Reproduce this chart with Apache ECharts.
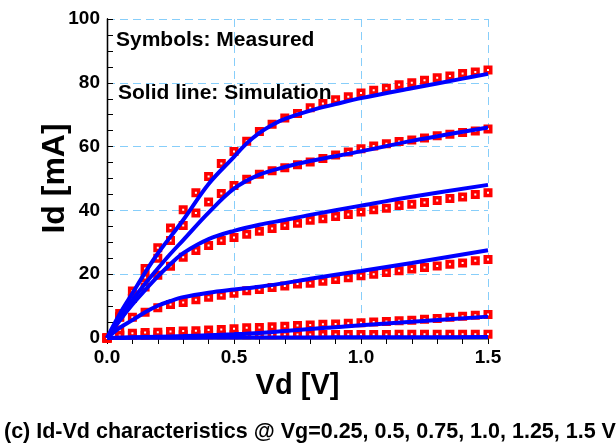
<!DOCTYPE html>
<html>
<head>
<meta charset="utf-8">
<script src="https://cdn.jsdelivr.net/npm/echarts@6/dist/echarts.min.js"></script>
<style>
  html, body { margin: 0; padding: 0; background: #fff; }
  #chart { width: 616px; height: 447px; }
</style>
</head>
<body>
<div id="chart"></div>
<script>
// Drain voltage sweep for the measured points (V)
const vdMeasured = [0, 0.05, 0.10, 0.15, 0.20, 0.25, 0.30, 0.35, 0.40, 0.45, 0.50,
  0.55, 0.60, 0.65, 0.70, 0.75, 0.80, 0.85, 0.90, 0.95, 1.00,
  1.05, 1.10, 1.15, 1.20, 1.25, 1.30, 1.35, 1.40, 1.45, 1.50];

// Measured drain current (mA), one array per gate voltage
const measVg150 = [0, 7.7, 14.7, 21.8, 28.3, 34.5, 40.2, 45.5, 50.6, 54.7, 58.5,
  61.7, 64.7, 67.0, 69.0, 70.4, 72.2, 73.5, 74.7, 75.6, 76.8,
  77.7, 78.3, 79.4, 80.0, 80.8, 81.6, 82.1, 82.9, 83.4, 84.0];
const measVg125 = [0, 6.5, 12.5, 19.0, 25.0, 30.6, 35.3, 39.2, 42.6, 45.3, 47.8,
  49.8, 51.3, 52.4, 53.4, 54.3, 55.2, 56.3, 57.4, 58.3, 59.3,
  60.2, 60.9, 61.6, 62.1, 62.7, 63.4, 63.9, 64.4, 64.9, 65.5];
const measVg100 = [0, 6.7, 12.4, 16.0, 19.7, 22.5, 25.3, 27.4, 29.0, 30.6, 31.5,
  32.5, 33.5, 34.3, 35.3, 36.0, 36.9, 37.4, 38.1, 38.7, 39.5,
  40.2, 40.7, 41.5, 41.9, 42.5, 43.1, 43.7, 44.2, 45.0, 45.5];
const measVg075 = [0, 2.5, 6.5, 8.1, 9.5, 10.5, 11.1, 12.0, 12.8, 13.4, 14.0,
  14.8, 15.2, 15.8, 16.3, 16.9, 17.2, 17.8, 18.3, 18.9, 19.5,
  20.0, 20.5, 21.1, 21.6, 22.1, 22.6, 23.1, 23.5, 24.2, 24.6];
const measVg050 = [0, 1.0, 1.5, 1.7, 1.8, 2.0, 2.2, 2.3, 2.5, 2.7, 2.9,
  3.2, 3.3, 3.5, 3.7, 3.9, 4.1, 4.3, 4.4, 4.6, 4.8,
  5.0, 5.2, 5.4, 5.6, 5.85, 6.15, 6.5, 6.8, 7.1, 7.4];
const measVg025 = [0, 0.8, 0.9, 0.9, 1.0, 1.0, 1.0, 1.0, 1.0, 1.0, 1.0,
  1.0, 1.0, 1.0, 1.1, 1.1, 1.1, 1.1, 1.1, 1.1, 1.1,
  1.1, 1.1, 1.2, 1.2, 1.2, 1.2, 1.2, 1.2, 1.2, 1.2];

// Simulated curves (Vd in V, Id in mA)
const vdSimFine = [0, 0.05, 0.10, 0.15, 0.20, 0.30, 0.40, 0.50, 0.55, 0.60, 0.65, 0.70, 0.80, 0.90, 1.00, 1.20, 1.40, 1.50];
const simVg150 = [0, 7.5, 14.0, 20.5, 26.5, 37.0, 48.3, 56.8, 61.0, 64.3, 66.8, 68.7, 71.3, 73.3, 75.2, 78.3, 81.3, 82.8];
const vdSim = [0, 0.05, 0.10, 0.15, 0.20, 0.25, 0.30, 0.40, 0.50, 0.60, 0.70, 0.80, 1.00, 1.20, 1.50];
const simVg125 = [0, 6.0, 11.9, 17.0, 21.8, 26.4, 30.7, 39.3, 46.8, 51.2, 53.6, 55.5, 58.5, 61.8, 66.0];
const simVg100 = [0, 5.5, 10.5, 15.0, 19.3, 23.2, 26.6, 31.0, 33.6, 35.5, 37.0, 38.6, 41.5, 44.3, 48.0];
const simVg075 = [0, 3.2, 5.6, 8.1, 10.1, 11.6, 12.8, 14.2, 15.2, 16.1, 17.2, 18.6, 21.0, 23.5, 27.5];
const vdSimLow = [0, 0.10, 0.20, 0.30, 0.40, 0.50, 0.60, 0.70, 0.80, 0.90, 1.00, 1.20, 1.50];
const simVg050 = [0, 0.2, 0.4, 0.6, 0.9, 1.2, 1.6, 2.2, 2.8, 3.4, 4.0, 5.1, 6.7];
const simVg025 = [0, 0.05, 0.08, 0.1, 0.12, 0.14, 0.15, 0.17, 0.18, 0.2, 0.22, 0.25, 0.3];

// Axis ticks and text
const xTickLabels = ['0.0', '0.5', '1.0', '1.5'];
const yTickLabels = ['0', '20', '40', '60', '80', '100'];
const xAxisName = 'Vd [V]';
const yAxisName = 'Id [mA]';
const noteMeasured = 'Symbols: Measured';
const noteSimulated = 'Solid line: Simulation';
const caption = '(c) Id-Vd characteristics @ Vg=0.25, 0.5, 0.75, 1.0, 1.25, 1.5 V';

const pairs = (xs, ys) => xs.map((x, i) => [x, ys[i]]);

const FONT = 'Liberation Sans, Arial, sans-serif';
const GRID = { left: 107, top: 19, width: 381, height: 319 };

const measuredSets = [measVg025, measVg050, measVg075, measVg100, measVg125, measVg150];
const simSets = [
  [vdSimLow, simVg025], [vdSimLow, simVg050], [vdSim, simVg075],
  [vdSim, simVg100], [vdSim, simVg125], [vdSimFine, simVg150]
];

const series = [];
measuredSets.forEach((ys) => {
  series.push({
    type: 'scatter',
    data: pairs(vdMeasured, ys),
    symbol: 'rect',
    symbolSize: 5.5,
    itemStyle: { color: '#ffffff', borderColor: '#ff0000', borderWidth: 3.5, opacity: 1 },
    z: 3,
    silent: true
  });
});
simSets.forEach(([xs, ys]) => {
  series.push({
    type: 'line',
    data: pairs(xs, ys),
    smooth: 0.35,
    showSymbol: false,
    lineStyle: { color: '#0000ff', width: 4 },
    z: 4,
    silent: true,
    animation: false
  });
});

const chart = echarts.init(document.getElementById('chart'), null, { renderer: 'canvas' });
chart.setOption({
  animation: false,
  backgroundColor: '#ffffff',
  grid: GRID,
  xAxis: [
    {
      type: 'value', position: 'bottom', min: 0, max: 1.5, interval: 0.5,
      axisLine: { show: true, lineStyle: { color: '#000', width: 1.3 } },
      axisTick: { show: true, inside: true, length: 4, lineStyle: { color: '#000' } },
      minorTick: { show: true, splitNumber: 5, length: 4, lineStyle: { color: '#000' } },
      axisLabel: {
        margin: 10, fontFamily: FONT, fontWeight: 'bold', fontSize: 19, color: '#000',
        formatter: (v) => xTickLabels[Math.round(v / 0.5)]
      },
      splitLine: { show: true, lineStyle: { color: '#87cefa', type: [8, 5], width: 1 } },
      name: xAxisName, nameLocation: 'middle', nameGap: 33, nameMoveOverlap: false,
      nameTextStyle: { fontFamily: FONT, fontWeight: 'bold', fontSize: 29, color: '#000' }
    },
    {
      type: 'value', position: 'top', min: 0, max: 1.5, interval: 0.1,
      axisLine: { show: true, lineStyle: { color: '#000', width: 1.3 } },
      axisTick: { show: true, inside: true, length: 6, lineStyle: { color: '#000' } },
      axisLabel: { show: false }, splitLine: { show: false }
    }
  ],
  yAxis: [
    {
      type: 'value', position: 'left', min: 0, max: 100, interval: 20,
      axisLine: { show: true, lineStyle: { color: '#000', width: 1.3 } },
      axisTick: { show: true, inside: true, length: 6, lineStyle: { color: '#000' } },
      minorTick: { show: true, splitNumber: 4, length: 6, lineStyle: { color: '#000' } },
      axisLabel: {
        margin: 7, fontFamily: FONT, fontWeight: 'bold', fontSize: 19, color: '#000',
        formatter: (v) => yTickLabels[Math.round(v / 20)]
      },
      splitLine: { show: true, lineStyle: { color: '#87cefa', type: [8, 5], width: 1 } },
      name: yAxisName, nameLocation: 'middle', nameGap: 36, nameRotate: 90,
      nameMoveOverlap: false,
      nameTextStyle: { fontFamily: FONT, fontWeight: 'bold', fontSize: 32, color: '#000' }
    },
    {
      type: 'value', position: 'right', min: 0, max: 100,
      axisLine: { show: true, lineStyle: { color: '#000', width: 1.3 } },
      axisTick: { show: false }, axisLabel: { show: false }, splitLine: { show: false }
    }
  ],
  graphic: [
    { type: 'text', left: 116, top: 30, z: 10,
      style: { text: noteMeasured, font: `bold 21px ${FONT}`, fill: '#000' } },
    { type: 'text', left: 118, top: 83, z: 10,
      style: { text: noteSimulated, font: `bold 21px ${FONT}`, fill: '#000' } },
    { type: 'text', left: 4, top: 421, z: 10,
      style: { text: caption, font: `bold 21.5px ${FONT}`, fill: '#000' } }
  ],
  series: series
});
</script>
</body>
</html>
